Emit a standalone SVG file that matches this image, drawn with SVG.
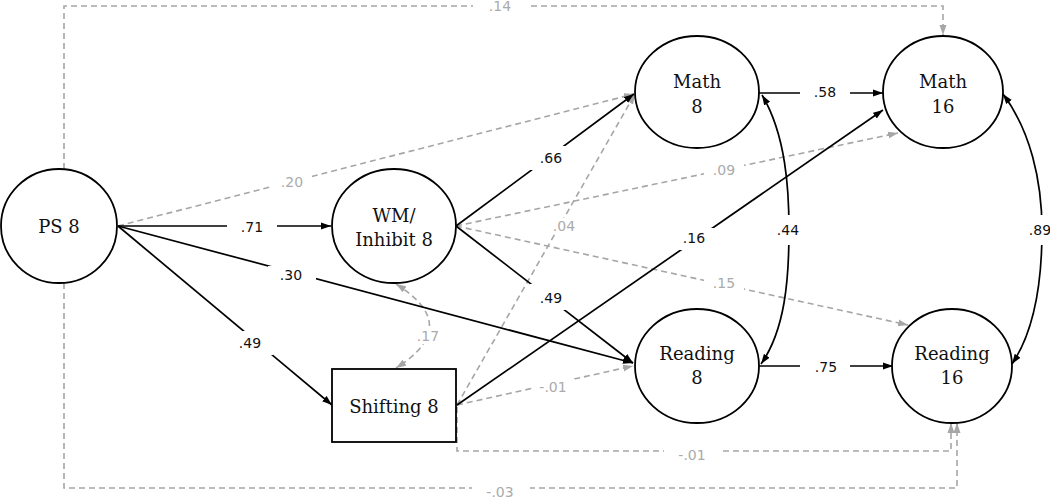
<svg xmlns="http://www.w3.org/2000/svg" width="1050" height="498" viewBox="0 0 1050 498">
<style>
.node{fill:#fff;stroke:#000;stroke-width:1.8}
.nt{font-family:"DejaVu Serif","Liberation Serif",serif;font-size:18px;fill:#111;text-anchor:middle}
.s{fill:none;stroke:#000;stroke-width:1.7}
.d{fill:none;stroke:#a6a6a6;stroke-width:1.6;stroke-dasharray:6 4}
.lb{font-family:"DejaVu Sans","Liberation Sans",sans-serif;font-size:14px;text-anchor:middle}
.k{fill:#111}
.g{fill:#ababab}
.bg{fill:#fff}
</style>
<defs>
<marker id="ak" markerUnits="userSpaceOnUse" markerWidth="10" markerHeight="8" refX="10" refY="4" orient="auto-start-reverse"><path d="M0,0.5 L10,4 L0,7.5 z" fill="#000"/></marker>
<marker id="ag" markerUnits="userSpaceOnUse" markerWidth="10" markerHeight="8" refX="10" refY="4" orient="auto-start-reverse"><path d="M0,0.5 L10,4 L0,7.5 z" fill="#a6a6a6"/></marker>
</defs>
<g id="connectors">
<path class="d" d="M64,169 V6 H943 V35" marker-end="url(#ag)"/>
<path class="d" d="M64,283 V488 H957 V423" marker-end="url(#ag)"/>
<path class="d" d="M457,407 V451 H951 V423" marker-end="url(#ag)"/>
<path class="d" d="M118,226 L634,94" marker-end="url(#ag)"/>
<path class="d" d="M456,226 L898,133" marker-end="url(#ag)"/>
<path class="d" d="M456,226 L908,325" marker-end="url(#ag)"/>
<path class="d" d="M457,405 L635,94" marker-end="url(#ag)"/>
<path class="d" d="M457,405 L633,366" marker-end="url(#ag)"/>
<path class="d" d="M396,284 Q463,326 396,368" marker-start="url(#ag)" marker-end="url(#ag)"/>
<path class="s" d="M118,226 L331,226" marker-end="url(#ak)"/>
<path class="s" d="M118,226 L633,363" marker-end="url(#ak)"/>
<path class="s" d="M118,226 L332,405" marker-end="url(#ak)"/>
<path class="s" d="M456,226 L634,94" marker-end="url(#ak)"/>
<path class="s" d="M456,226 L633,363" marker-end="url(#ak)"/>
<path class="s" d="M457,405 L883,110" marker-end="url(#ak)"/>
<path class="s" d="M759,93 L883,93" marker-end="url(#ak)"/>
<path class="s" d="M759,366 L893,366" marker-end="url(#ak)"/>
<path class="s" d="M762,95 C786,135 789,190 789,230 C789,280 785,330 761,364" marker-start="url(#ak)" marker-end="url(#ak)"/>
<path class="s" d="M1003,94 C1030,130 1042,180 1042,230 C1042,280 1035,330 1012,364" marker-start="url(#ak)" marker-end="url(#ak)"/>
</g>
<g id="labels">
<rect class="bg" x="473" y="0" width="54" height="14"/><text class="lb g" x="500" y="11">.14</text>
<rect class="bg" x="472" y="484" width="58" height="14"/><text class="lb g" x="500" y="497">-.03</text>
<rect class="bg" x="664" y="446" width="56" height="16"/><text class="lb g" x="692" y="460">-.01</text>
<rect class="bg" x="272" y="174" width="40" height="16"/><text class="lb g" x="292" y="187">.20</text>
<rect class="bg" x="704" y="162" width="40" height="16"/><text class="lb g" x="724" y="175">.09</text>
<rect class="bg" x="704" y="275" width="40" height="16"/><text class="lb g" x="724" y="288">.15</text>
<rect class="bg" x="546" y="218" width="36" height="16"/><text class="lb g" x="564" y="231">.04</text>
<rect class="bg" x="533" y="379" width="42" height="16"/><text class="lb g" x="553" y="392">-.01</text>
<rect class="bg" x="416" y="327" width="26" height="17"/><text class="lb g" x="428" y="341">.17</text>
<rect class="bg" x="227" y="219" width="50" height="16"/><text class="lb k" x="252" y="232">.71</text>
<rect class="bg" x="268" y="266" width="48" height="18"/><text class="lb k" x="291" y="280">.30</text>
<rect class="bg" x="237" y="331" width="36" height="24"/><text class="lb k" x="250" y="348">.49</text>
<rect class="bg" x="530" y="146" width="40" height="24"/><text class="lb k" x="551" y="163">.66</text>
<rect class="bg" x="530" y="284" width="40" height="26"/><text class="lb k" x="551" y="303">.49</text>
<rect class="bg" x="674" y="228" width="40" height="22"/><text class="lb k" x="694" y="243">.16</text>
<rect class="bg" x="800" y="84" width="50" height="16"/><text class="lb k" x="825" y="97">.58</text>
<rect class="bg" x="800" y="358" width="50" height="16"/><text class="lb k" x="826" y="372">.75</text>
<rect class="bg" x="776" y="215" width="24" height="30"/><text class="lb k" x="788" y="235">.44</text>
<rect class="bg" x="1030" y="215" width="20" height="30"/><text class="lb k" x="1040" y="235">.89</text>
</g>
<g id="ps8"><ellipse class="node" cx="59" cy="226" rx="58" ry="57"/><text class="nt" x="59" y="233">PS 8</text></g>
<g id="wm8"><ellipse class="node" cx="394" cy="226" rx="62" ry="57"/><text class="nt" x="394" y="222">WM/</text><text class="nt" x="394" y="246">Inhibit 8</text></g>
<g id="shift8"><rect class="node" x="332" y="369" width="124" height="73"/><text class="nt" x="394" y="413">Shifting 8</text></g>
<g id="math8"><ellipse class="node" cx="697" cy="92" rx="62" ry="56"/><text class="nt" x="697" y="88">Math</text><text class="nt" x="697" y="113">8</text></g>
<g id="math16"><ellipse class="node" cx="943" cy="92" rx="60" ry="56"/><text class="nt" x="943" y="88">Math</text><text class="nt" x="943" y="113">16</text></g>
<g id="read8"><ellipse class="node" cx="697" cy="366" rx="62" ry="57"/><text class="nt" x="697" y="360">Reading</text><text class="nt" x="697" y="384">8</text></g>
<g id="read16"><ellipse class="node" cx="952" cy="366" rx="60" ry="57"/><text class="nt" x="952" y="360">Reading</text><text class="nt" x="952" y="384">16</text></g>
</svg>
